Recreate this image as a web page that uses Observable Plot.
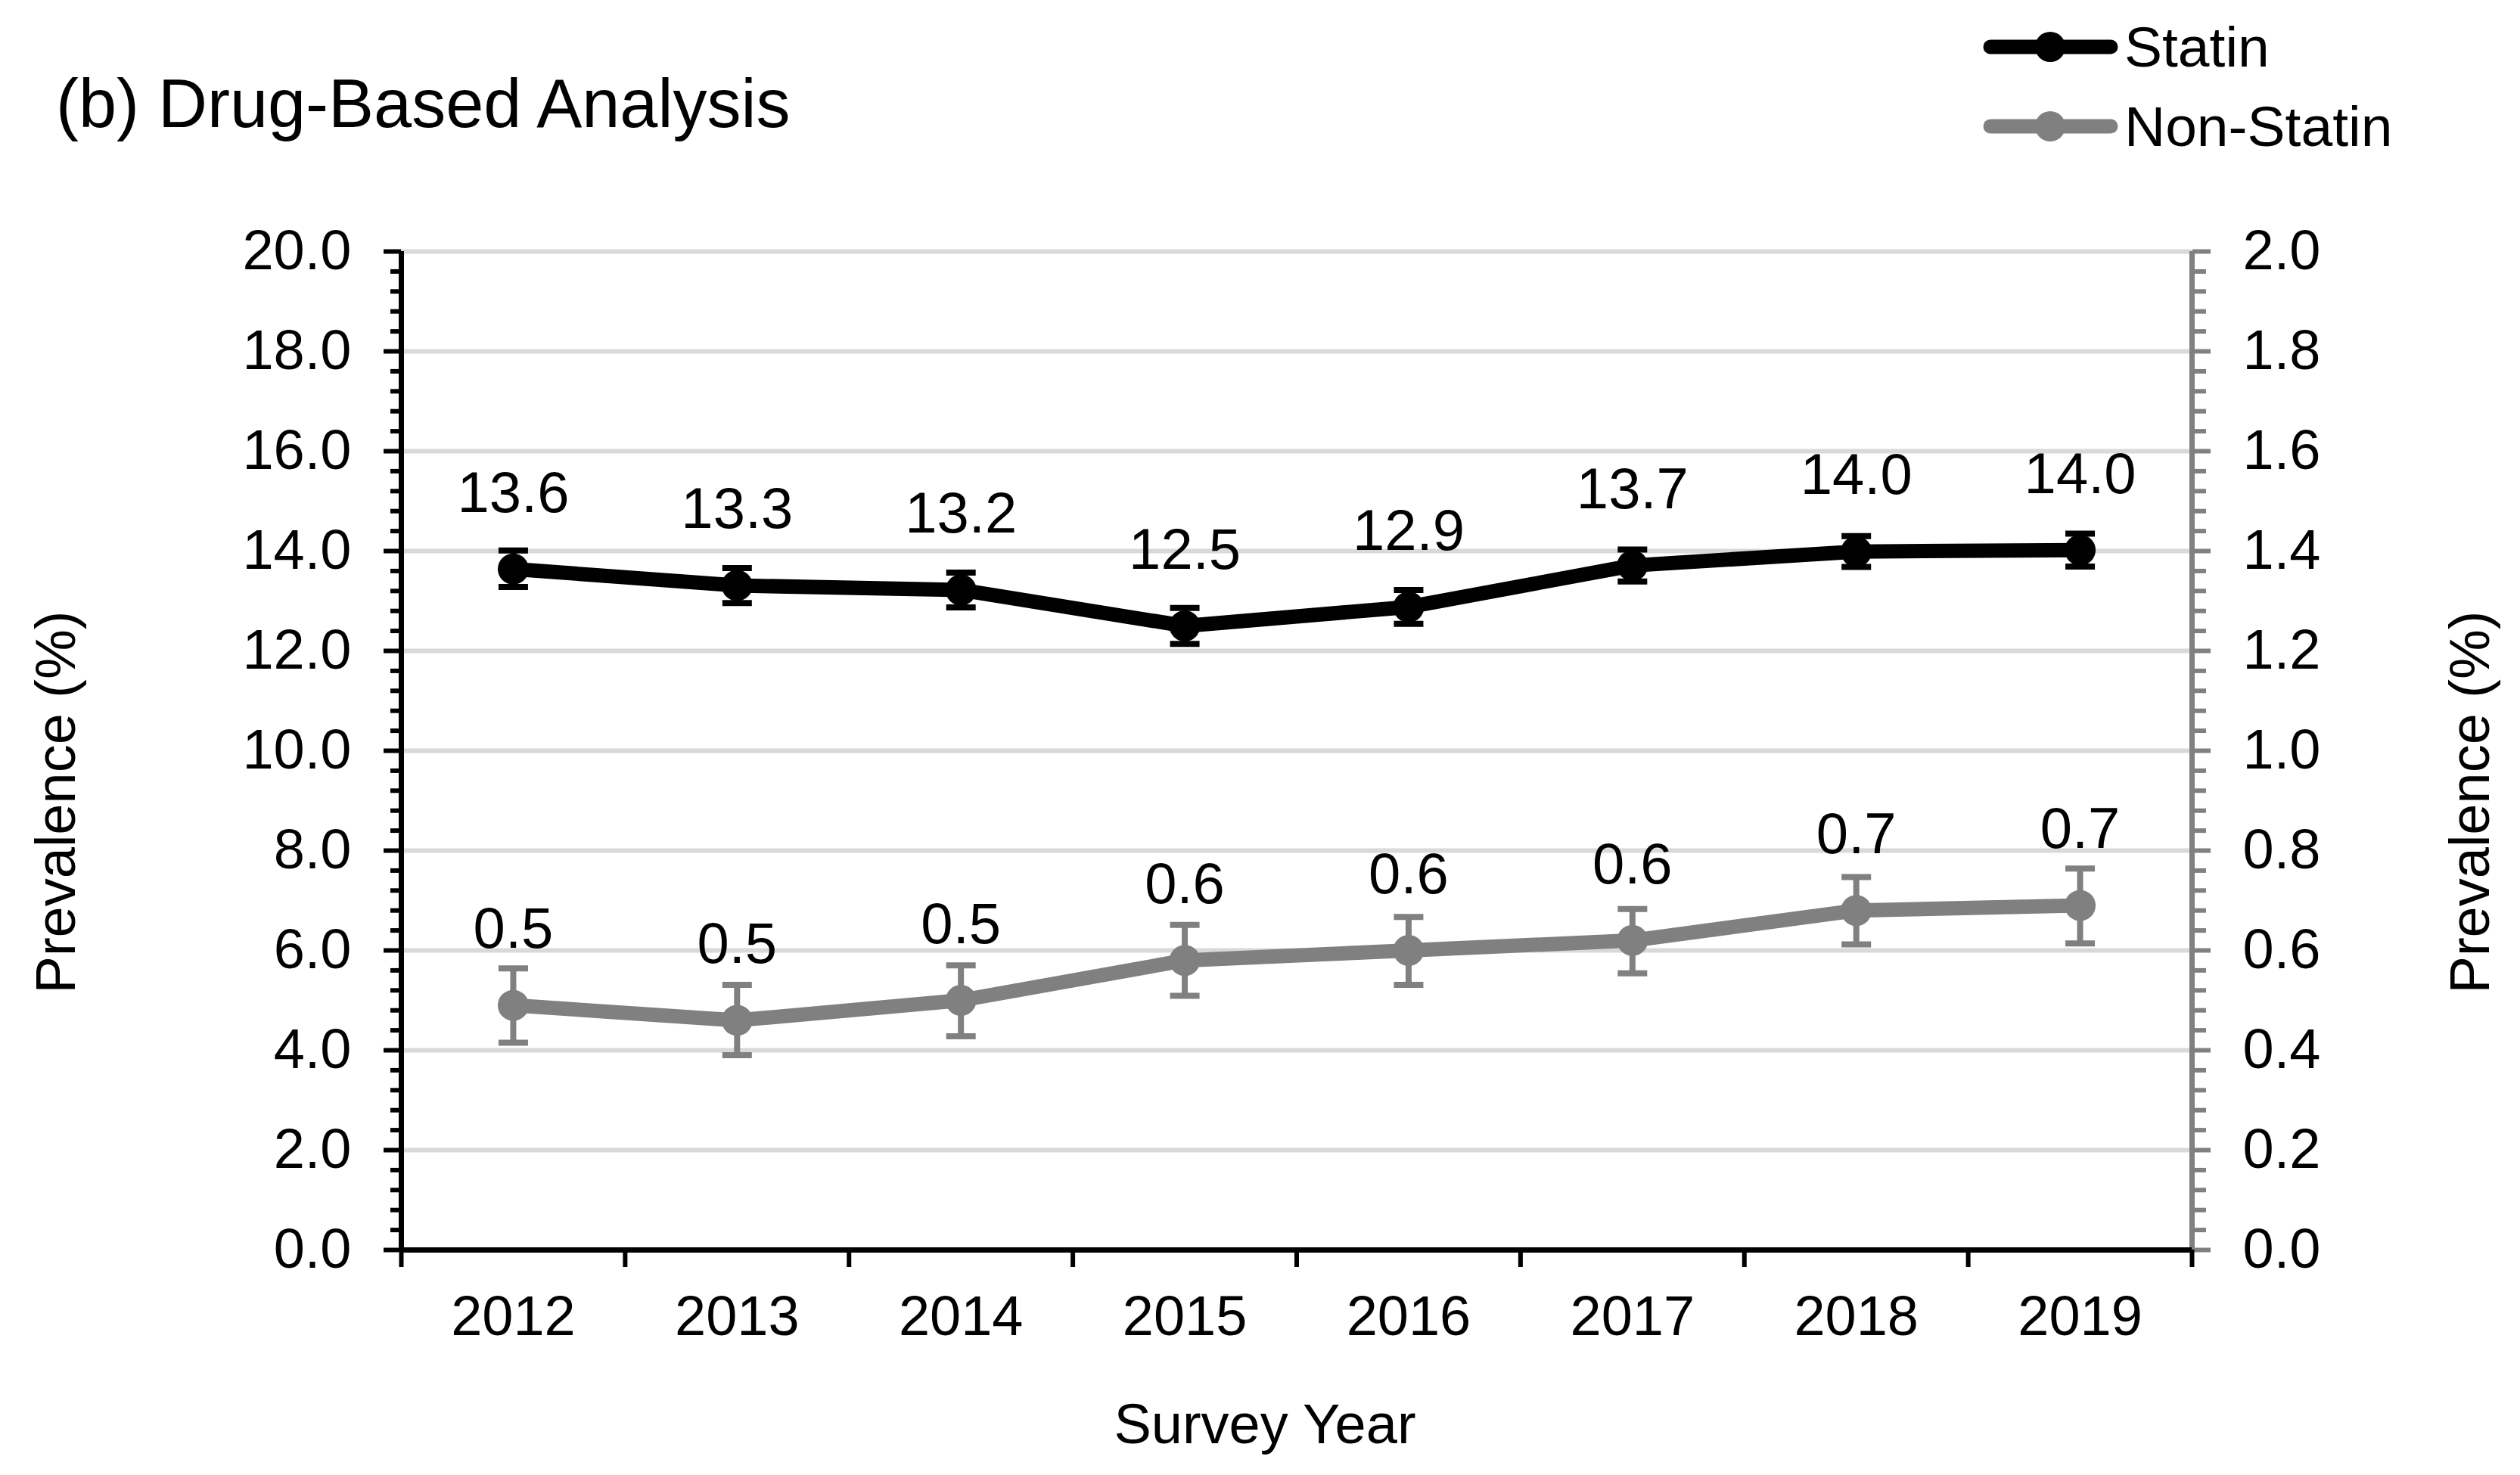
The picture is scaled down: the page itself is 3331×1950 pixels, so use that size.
<!DOCTYPE html>
<html>
<head>
<meta charset="utf-8">
<script src="https://cdn.jsdelivr.net/npm/d3@7"></script>
<script src="https://cdn.jsdelivr.net/npm/@observablehq/plot@0.6"></script>
<style>
  html, body { margin: 0; padding: 0; background: #fff; }
  #wrap { position: relative; width: 3331px; height: 1950px; font-family: "Liberation Sans", Arial, sans-serif; }
  #wrap > svg { position: absolute; left: 0; top: 0; }
</style>
</head>
<body>
<div id="wrap"></div>
<script>
// ---- data ----
const years = ["2012", "2013", "2014", "2015", "2016", "2017", "2018", "2019"];
const seriesNames = ["Statin", "Non-Statin"];
const seriesColors = ["#000000", "#808080"];

// Statin (left axis, %)
const statin   = [13.64, 13.31, 13.22, 12.50, 12.88, 13.71, 13.99, 14.02];
const statinLo = [13.28, 12.96, 12.87, 12.14, 12.54, 13.39, 13.68, 13.69];
const statinHi = [14.01, 13.66, 13.57, 12.86, 13.22, 14.03, 14.30, 14.35];

// Non-statin (right axis, %)
const nonStatin   = [0.49, 0.46, 0.50, 0.58, 0.60, 0.62, 0.68, 0.69];
const nonStatinLo = [0.415, 0.390, 0.428, 0.509, 0.531, 0.554, 0.612, 0.614];
const nonStatinHi = [0.564, 0.531, 0.570, 0.651, 0.667, 0.683, 0.747, 0.764];

// axes
const leftMajor = [0, 2, 4, 6, 8, 10, 12, 14, 16, 18, 20];
const rightMajor = [0.0, 0.2, 0.4, 0.6, 0.8, 1.0, 1.2, 1.4, 1.6, 1.8, 2.0];
const minorPerMajor = 5;
const axisRatio = 10; // left value = right value * 10

const title = "(b) Drug-Based Analysis";
const xTitle = "Survey Year";
const yTitle = "Prevalence (%)";

// ---- build table ----
const rows = [];
years.forEach((yr, i) => {
  rows.push({series: "Statin", idx: i + 0.5, y: statin[i], lo: statinLo[i], hi: statinHi[i], label: statin[i].toFixed(1)});
});
years.forEach((yr, i) => {
  rows.push({series: "Non-Statin", idx: i + 0.5, y: nonStatin[i] * axisRatio, lo: nonStatinLo[i] * axisRatio, hi: nonStatinHi[i] * axisRatio, label: nonStatin[i].toFixed(1)});
});

const minorTicks = [];
for (let k = 0; k < leftMajor.length - 1; k++) {
  const step = (leftMajor[k + 1] - leftMajor[k]) / minorPerMajor;
  for (let j = 1; j < minorPerMajor; j++) minorTicks.push(leftMajor[k] + j * step);
}
const boundaries = d3.range(years.length + 1);
const centers = d3.range(years.length).map(i => i + 0.5);

const capSymbol = {
  draw(ctx, size) {
    const r = Math.sqrt(size / Math.PI);
    ctx.moveTo(-r, 0);
    ctx.lineTo(r, 0);
  }
};

const FS = 74;

const chart = Plot.plot({
  width: 3331,
  height: 1950,
  marginLeft: 530,
  marginRight: 434,
  marginTop: 332,
  marginBottom: 298,
  style: {fontFamily: "'Liberation Sans', Arial, sans-serif", fontSize: FS + "px", background: "white", color: "black", overflow: "visible"},
  x: {domain: [0, years.length], axis: null},
  y: {domain: [0, 20], axis: null},
  color: {domain: seriesNames, range: seriesColors},
  marks: [
    Plot.gridY({ticks: leftMajor.filter(d => d > 0), stroke: "#d9d9d9", strokeOpacity: 1, strokeWidth: 6}),
    // left axis
    Plot.axisY({anchor: "left", ticks: minorTicks, tickSize: 14, tickFormat: () => "", stroke: "black", strokeWidth: 6, label: null}),
    Plot.axisY({anchor: "left", ticks: leftMajor, tickSize: 23, tickPadding: 43, tickFormat: d => d.toFixed(1), stroke: "black", strokeWidth: 6, fill: "black", fontSize: FS, label: null}),
    // right axis
    Plot.axisY({anchor: "right", ticks: minorTicks, tickSize: 18, tickFormat: () => "", stroke: "#808080", strokeWidth: 6, label: null}),
    Plot.axisY({anchor: "right", ticks: leftMajor, tickSize: 24, tickPadding: 43, tickFormat: (d, i) => rightMajor[i].toFixed(1), stroke: "#808080", strokeWidth: 6, fill: "black", fontSize: FS, label: null}),
    // x axis
    Plot.axisX({ticks: boundaries, tickSize: 23, tickFormat: () => "", stroke: "black", strokeWidth: 6, label: null}),
    Plot.axisX({ticks: centers, tickSize: 0, tickPadding: 60, tickFormat: d => years[Math.floor(d)], fill: "black", fontSize: FS, label: null}),
    Plot.ruleX([years.length], {stroke: "#808080", strokeWidth: 7}),
    Plot.ruleX([0], {stroke: "black", strokeWidth: 7}),
    Plot.ruleY([0], {stroke: "black", strokeWidth: 7}),
    // series
    Plot.line(rows, {x: "idx", y: "y", z: "series", stroke: "series", strokeWidth: 19, strokeLinejoin: "round", strokeLinecap: "round"}),
    Plot.ruleX(rows, {x: "idx", y1: "lo", y2: "hi", stroke: "series", strokeWidth: 8}),
    Plot.dot(rows, {x: "idx", y: "lo", symbol: capSymbol, r: 19.5, stroke: "series", strokeWidth: 8, fill: "none"}),
    Plot.dot(rows, {x: "idx", y: "hi", symbol: capSymbol, r: 19.5, stroke: "series", strokeWidth: 8, fill: "none"}),
    Plot.dot(rows, {x: "idx", y: "y", r: 20.5, fill: "series", stroke: "none"}),
    Plot.text(rows, {x: "idx", y: "y", text: "label", dy: -100, fontSize: FS + 2, fill: "black"}),
    // axis titles
    Plot.text([yTitle], {frameAnchor: "left", textAnchor: "middle", lineAnchor: "middle", dx: -455, dy: 68, rotate: -90, fontSize: FS, fill: "black"}),
    Plot.text([yTitle], {frameAnchor: "right", textAnchor: "middle", lineAnchor: "middle", dx: 369, dy: 68, rotate: -90, fontSize: FS, fill: "black"}),
    Plot.text([xTitle], {frameAnchor: "bottom", textAnchor: "middle", lineAnchor: "middle", dx: -42, dy: 232, fontSize: FS, fill: "black"})
  ]
});
document.getElementById("wrap").appendChild(chart);

// ---- title and legend overlay ----
const ov = d3.select("#wrap").append("svg")
  .attr("width", 3331).attr("height", 1950)
  .style("font-family", "'Liberation Sans', Arial, sans-serif");
ov.append("text").attr("x", 74).attr("y", 168).attr("font-size", 90).attr("fill", "black").text(title);
const legendRowY = [62, 167];
seriesNames.forEach((name, i) => {
  const g = ov.append("g").attr("transform", `translate(0,${legendRowY[i]})`);
  g.append("line").attr("x1", 2631).attr("x2", 2790).attr("y1", 0).attr("y2", 0)
    .attr("stroke", seriesColors[i]).attr("stroke-width", 19).attr("stroke-linecap", "round");
  g.append("circle").attr("cx", 2710).attr("cy", 0).attr("r", 20).attr("fill", seriesColors[i]);
  g.append("text").attr("x", 2808).attr("y", 26).attr("font-size", FS + 1).attr("fill", "black").text(name);
});
</script>
</body>
</html>
